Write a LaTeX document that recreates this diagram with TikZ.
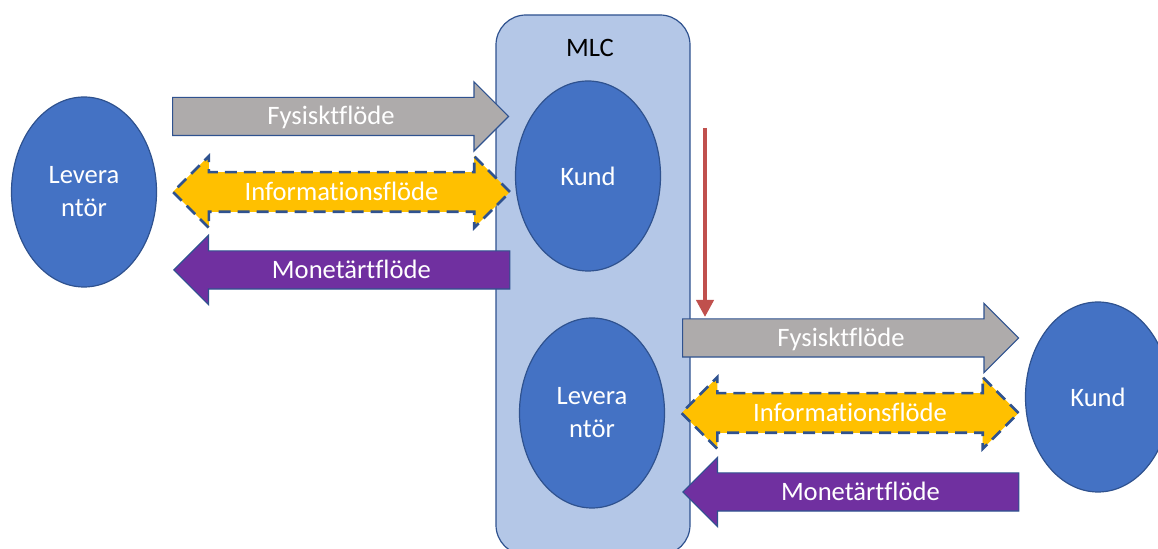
\documentclass[tikz,border=0pt]{standalone}
\usepackage{fontspec}
\setmainfont[Ligatures=NoCommon]{Carlito}
\usepackage{tikz}
\usetikzlibrary{shapes.geometric, shapes.arrows, arrows.meta}
\definecolor{partyblue}{HTML}{4472C4}
\definecolor{edgeblue}{HTML}{2F528F}
\definecolor{mlcblue}{HTML}{B4C7E7}
\definecolor{flowgrey}{HTML}{AEABAB}
\definecolor{infoyellow}{HTML}{FFC000}
\definecolor{moneypurple}{HTML}{7030A0}
\definecolor{signalred}{HTML}{C0504D}

\begin{document}
\begin{tikzpicture}[x=0.5pt, y=-0.5pt,
  labelfont/.style={font=\fontsize{13.3}{16.5}\selectfont},
  party/.style={ellipse, draw=edgeblue, fill=partyblue, line width=0.6pt, minimum width=72.5pt, minimum height=95pt, text=white, align=center, labelfont},
  flowarrow/.style={single arrow, draw=edgeblue, line width=0.6pt, minimum width=0pt, single arrow head extend=7.75pt, minimum height=168pt, inner xsep=0pt, inner ysep=5pt, text height=8.5pt, text depth=0pt, text=white, labelfont},
  infoarrow/.style={double arrow, fill=infoyellow, draw=edgeblue, line width=1.3pt, dash pattern=on 6pt off 3.5pt, minimum width=0pt, double arrow head extend=8pt, minimum height=168.5pt, inner xsep=0pt, inner ysep=5pt, text height=8.5pt, text depth=0pt, text=white, labelfont}]
  \clip (0,0) rectangle (1158,549);

  % MLC container
  \node[draw=edgeblue, fill=mlcblue, line width=0.6pt, rounded corners=15pt, minimum width=97pt, minimum height=270pt, inner sep=0pt] (mlc) at (593,285) {};
  \node[labelfont] (mlclabel) at (590,48) {MLC};

  % parties
  \node[party] (levleft) at (84,192) {Levera\\ntör};
  \node[party] (kundmlc) at (588,176) {Kund};
  \node[party] (levmlc) at (592,413) {Levera\\ntör};
  \node[party] (kundright) at (1098,397) {Kund};

  % flows, first tier
  \node[flowarrow, fill=flowgrey, anchor=tail] (fys1) at (172,116.5) {Fysisktflöde};
  \node[infoarrow] (info1) at (341.5,192) {Informationsflöde};
  \node[flowarrow, fill=moneypurple, shape border rotate=180, anchor=tip] (mon1) at (173,270) {Monetärtflöde};

  % flows, second tier
  \node[flowarrow, fill=flowgrey, anchor=tail] (fys2) at (682,338) {Fysisktflöde};
  \node[infoarrow] (info2) at (850,413) {Informationsflöde};
  \node[flowarrow, fill=moneypurple, shape border rotate=180, anchor=tip] (mon2) at (682,492) {Monetärtflöde};

  % link between tiers
  \coordinate (sigstart) at (705,128);
  \coordinate (sigend) at (705,317);
  \draw[signalred, line width=2pt, -{Triangle[width=8.5pt,length=8.5pt]}] (sigstart) -- (sigend);
\end{tikzpicture}
\end{document}
